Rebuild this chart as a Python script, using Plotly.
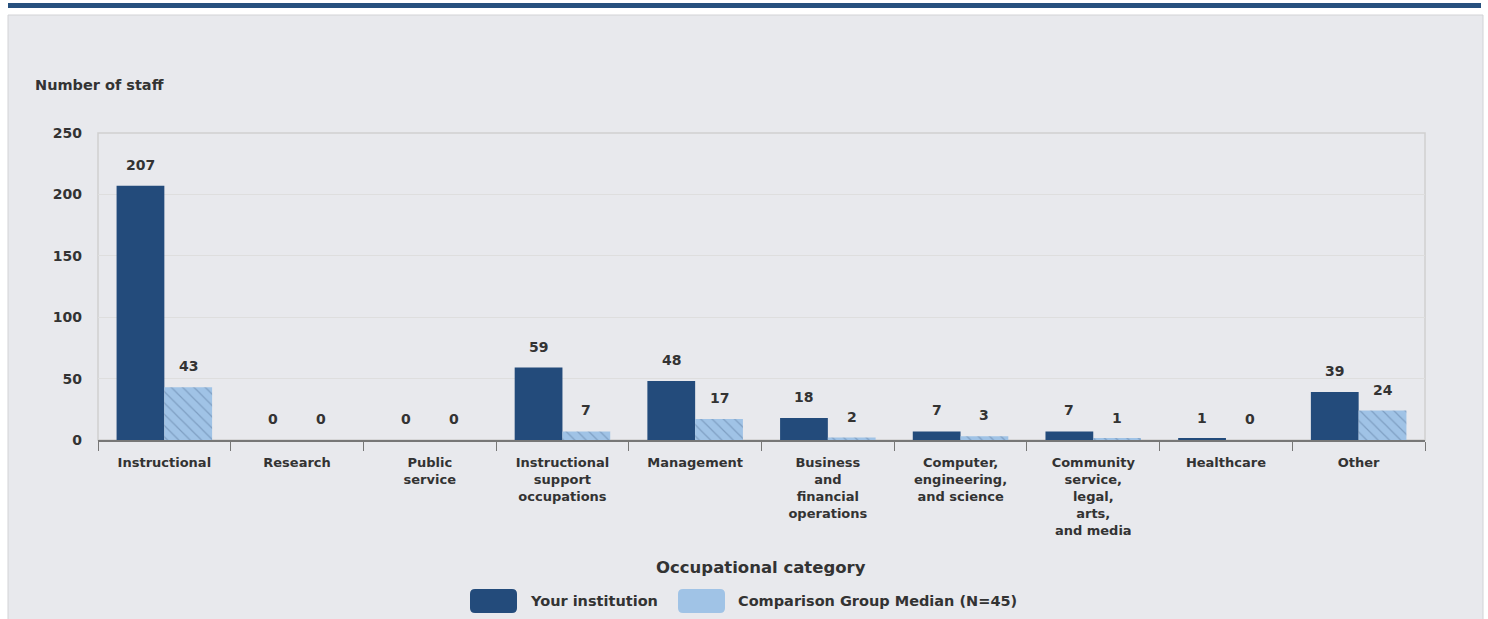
import plotly.graph_objects as go

categories = ["Instructional", "Research", "Public<br>service",
              "Instructional<br>support<br>occupations", "Management",
              "Business<br>and<br>financial<br>operations",
              "Computer,<br>engineering,<br>and science",
              "Community<br>service,<br>legal,<br>arts,<br>and media",
              "Healthcare", "Other"]
your_institution = [207, 0, 0, 59, 48, 18, 7, 7, 1, 39]
comparison_median = [43, 0, 0, 7, 17, 2, 3, 1, 0, 24]
y_ticks = [0, 50, 100, 150, 200, 250]
series_names = ["Your institution", "Comparison Group Median (N=45)"]

W, H = 1488, 619
L, R, T, B = 98, 63, 133, 179
pw, ph = W - L - R, H - T - B
BARGAP = 0.28

def fx(px):
    return (px - L) / pw

def fy(py):
    return (H - B - py) / ph

FONT = "DejaVu Sans, Verdana, sans-serif"
TXT = "#333333"
DARK = "#234b7b"
LIGHT = "#a0c3e6"

fig = go.Figure()
fig.add_trace(go.Bar(
    x=categories, y=your_institution, name=series_names[0],
    marker=dict(color=DARK, line=dict(width=0)),
))
fig.add_trace(go.Bar(
    x=categories, y=comparison_median, name=series_names[1],
    marker=dict(color=LIGHT, line=dict(width=0),
                pattern=dict(shape="\\", fgcolor="#5b7a9e", bgcolor=LIGHT,
                             size=8, solidity=0.15)),
))

# value labels above the bars (positioned from the data through the axes)
bar_px = pw / len(categories) * (1 - BARGAP) / 2
annotations = []
for vals, sign in ((your_institution, -1), (comparison_median, 1)):
    for cat, v in zip(categories, vals):
        annotations.append(dict(
            x=cat, y=v, xref="x", yref="y", text=f"<b>{v}</b>", showarrow=False,
            xanchor="center", yanchor="bottom", xshift=sign * bar_px / 2, yshift=11,
            font=dict(family=FONT, size=14, color=TXT)))

def rounded_box(x0, y0, x1, y1, r):
    X = lambda p: fx(p)
    Y = lambda p: fy(p)
    return (f"M {X(x0+r)} {Y(y0)} L {X(x1-r)} {Y(y0)} Q {X(x1)} {Y(y0)} {X(x1)} {Y(y0+r)} "
            f"L {X(x1)} {Y(y1-r)} Q {X(x1)} {Y(y1)} {X(x1-r)} {Y(y1)} "
            f"L {X(x0+r)} {Y(y1)} Q {X(x0)} {Y(y1)} {X(x0)} {Y(y1-r)} "
            f"L {X(x0)} {Y(y0+r)} Q {X(x0)} {Y(y0)} {X(x0+r)} {Y(y0)} Z")

shapes = [
    dict(type="rect", xref="paper", yref="paper", layer="below",
         x0=fx(8), x1=fx(1483), y0=fy(15), y1=fy(625),
         fillcolor="#e8e9ed", line=dict(color="#d2d3d6", width=1)),
    dict(type="rect", xref="paper", yref="paper",
         x0=fx(8), x1=fx(1481), y0=fy(3), y1=fy(8),
         fillcolor="#27507e", line=dict(width=0)),
    dict(type="rect", xref="paper", yref="paper", x0=0, x1=1, y0=0, y1=1,
         line=dict(color="#d0d0d0", width=1.5), layer="below",
         fillcolor="rgba(0,0,0,0)"),
    dict(type="path", xref="paper", yref="paper", path=rounded_box(470, 589, 517, 613, 5),
         fillcolor=DARK, line=dict(width=0)),
    dict(type="path", xref="paper", yref="paper", path=rounded_box(678, 589, 725, 613, 5),
         fillcolor=LIGHT, line=dict(width=0)),
]

annotations += [
    dict(text="<b>Number of staff</b>", xref="paper", yref="paper",
         x=fx(33), y=fy(85), xanchor="left", yanchor="middle", showarrow=False,
         font=dict(family=FONT, size=14.5, color=TXT)),
    dict(text="<b>Occupational category</b>", xref="paper", yref="paper",
         x=fx(761), y=fy(567), xanchor="center", yanchor="middle", showarrow=False,
         font=dict(family=FONT, size=16.5, color=TXT)),
    dict(text="<b>" + series_names[0] + "</b>", xref="paper", yref="paper",
         x=fx(528), y=fy(601), xanchor="left", yanchor="middle", showarrow=False,
         font=dict(family=FONT, size=14.5, color=TXT)),
    dict(text="<b>" + series_names[1] + "</b>", xref="paper", yref="paper",
         x=fx(736), y=fy(601), xanchor="left", yanchor="middle", showarrow=False,
         font=dict(family=FONT, size=14.5, color=TXT)),
]

fig.update_layout(
    width=W, height=H,
    margin=dict(l=L, r=R, t=T, b=B, autoexpand=False),
    paper_bgcolor="white", plot_bgcolor="#f4f4f4",
    barmode="group", bargap=BARGAP, bargroupgap=0,
    font=dict(family=FONT, size=13, color=TXT),
    shapes=shapes, annotations=annotations,
    showlegend=False,
    xaxis=dict(type="category", tickson="boundaries", ticks="outside", ticklen=9,
               tickcolor="#777777", showline=True, linecolor="#777777", linewidth=1.5,
               tickfont=dict(family=FONT, size=13, color=TXT, weight="bold"),
               ticklabelstandoff=10, showgrid=False, mirror=False),
    yaxis=dict(range=[0, 250], tickvals=y_ticks, showgrid=True, gridcolor="#dedede",
               gridwidth=1, zeroline=False, showline=False, ticks="",
               tickfont=dict(family=FONT, size=14, color=TXT, weight="bold"),
               ticklabelstandoff=15),
)

fig.write_html("out.html", config={"displayModeBar": False},
               post_script="document.body.style.margin='0';document.body.style.overflow='hidden';")
